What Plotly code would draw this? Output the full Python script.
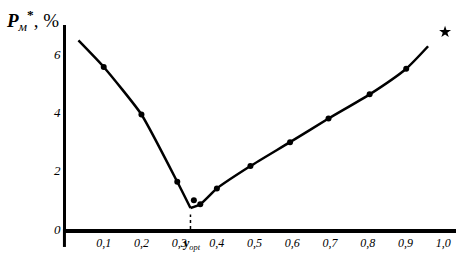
import plotly.graph_objects as go

# Curve (left and right branches of the V)
left_x = [0.033, 0.1, 0.2, 0.295, 0.33]
left_y = [6.47, 5.56, 3.93, 1.62, 0.72]
right_x = [0.33, 0.356, 0.40, 0.489, 0.594, 0.696, 0.805, 0.902, 0.96]
right_y = [0.72, 0.85, 1.39, 2.16, 2.98, 3.79, 4.62, 5.50, 6.27]

# Measured points
pt_x = [0.1, 0.2, 0.295, 0.339, 0.356, 0.40, 0.489, 0.594, 0.696, 0.805, 0.902]
pt_y = [5.56, 3.93, 1.62, 0.99, 0.85, 1.39, 2.16, 2.98, 3.79, 4.62, 5.50]
star_x = [1.005]
star_y = [6.76]

y_opt = 0.33

x_ticks = [0.1, 0.2, 0.3, 0.4, 0.5, 0.6, 0.7, 0.8, 0.9, 1.0]
x_tick_text = ["0,1", "0,2", "0,3", "0,4", "0,5", "0,6", "0,7", "0,8", "0,9", "1,0"]
y_ticks = [0, 2, 4, 6]
y_tick_text = ["0", "2", "4", "6"]
y_opt_label = "<b><i>y</i></b><sub><i>opt</i></sub>"
y_title = "<b><i>P</i></b><sub><i>м</i></sub><sup><b>*</b></sup>, %"

SERIF = "Liberation Serif"

tick_vals_all = x_ticks + [y_opt]
tick_text_all = ["<i>%s</i>" % t for t in x_tick_text] + [" " + y_opt_label]

fig = go.Figure()
fig.add_trace(go.Scatter(x=left_x, y=left_y, mode="lines",
                         line=dict(color="black", width=2.5, shape="spline", smoothing=0.5)))
fig.add_trace(go.Scatter(x=right_x, y=right_y, mode="lines",
                         line=dict(color="black", width=2.5, shape="spline", smoothing=0.6)))
fig.add_trace(go.Scatter(x=pt_x, y=pt_y, mode="markers",
                         marker=dict(color="black", size=6, symbol="circle")))
fig.add_trace(go.Scatter(x=star_x, y=star_y, mode="markers", cliponaxis=False,
                         marker=dict(color="black", size=9, symbol="star")))
fig.add_trace(go.Scatter(x=[y_opt, y_opt], y=[0, 0.5], mode="lines",
                         line=dict(color="black", width=1.5, dash="dot")))

fig.update_layout(
    width=459, height=267,
    margin=dict(l=66, r=3, t=25, b=38, autoexpand=False),
    paper_bgcolor="white", plot_bgcolor="white",
    showlegend=False,
    title=dict(text=y_title, xref="container", yref="container",
               x=0.015, y=0.925, xanchor="left", yanchor="middle",
               font=dict(family=SERIF, size=19, color="black")),
    xaxis=dict(range=[0, 1.034], tickvals=tick_vals_all, ticktext=tick_text_all,
               showline=True, linecolor="black", linewidth=4,
               showgrid=False, zeroline=False,
               tickfont=dict(family=SERIF, size=12, color="black")),
    yaxis=dict(range=[0, 7.0], tickvals=y_ticks,
               ticktext=["<i>%s</i>" % t for t in y_tick_text],
               showline=True, linecolor="black", linewidth=3,
               showgrid=False, zeroline=False,
               tickfont=dict(family=SERIF, size=13, color="black")),
    shapes=[
        dict(type="line", xref="paper", yref="paper", x0=-0.004, x1=-0.004, y0=-0.088, y1=0,
             line=dict(color="black", width=3)),
    ],
)

fig.write_html("out.html", post_script="document.body.style.margin='0';",
               config=dict(displayModeBar=False))
